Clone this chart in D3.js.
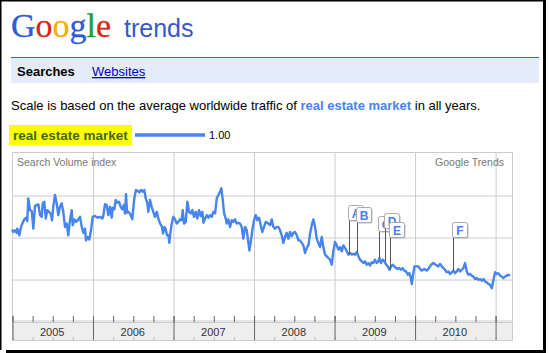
<!DOCTYPE html>
<html>
<head>
<meta charset="utf-8">
<script src="https://cdn.jsdelivr.net/npm/d3@7"></script>
<style>
  html, body { margin: 0; padding: 0; background: #fff; }
  svg { display: block; font-family: "Liberation Sans", Arial, sans-serif; }
</style>
</head>
<body>
<div id="chart"></div>
<script>
// weekly samples, position as decimal year
const sampleYears = [
  2005.000,2005.016,2005.037,2005.058,2005.066,2005.091,2005.112,2005.133,2005.153,2005.174,
  2005.190,2005.202,2005.224,2005.245,2005.265,2005.286,2005.307,2005.327,2005.348,2005.369,
  2005.381,2005.401,2005.419,2005.439,2005.460,2005.481,2005.497,2005.513,2005.534,2005.555,
  2005.575,2005.596,2005.617,2005.637,2005.658,2005.680,2005.699,2005.720,2005.742,2005.754,
  2005.774,2005.795,2005.824,2005.845,2005.866,2005.886,2005.907,2005.919,2005.940,2005.960,
  2005.981,2006.002,
  2006.031,2006.065,2006.093,2006.122,2006.134,2006.155,2006.176,2006.196,2006.217,2006.238,
  2006.251,2006.271,2006.288,2006.308,2006.329,2006.350,2006.370,2006.388,2006.404,2006.416,
  2006.429,2006.445,2006.466,2006.494,2006.519,2006.540,2006.561,2006.581,2006.602,2006.624,
  2006.643,2006.661,2006.681,2006.693,2006.714,2006.735,2006.755,2006.776,2006.798,2006.817,
  2006.839,2006.860,2006.876,2006.892,2006.909,2006.925,2006.942,2006.954,2006.966,2006.984,
  2007.004,2007.025,2007.046,2007.066,
  2007.087,2007.108,2007.120,2007.137,2007.158,2007.178,2007.199,2007.220,2007.240,2007.261,
  2007.282,2007.302,2007.323,2007.344,2007.364,2007.377,2007.398,2007.419,2007.439,2007.460,
  2007.481,2007.501,2007.522,2007.543,2007.563,2007.584,2007.600,2007.618,2007.634,2007.655,
  2007.667,2007.687,2007.708,2007.729,2007.749,2007.770,2007.791,2007.811,2007.832,2007.853,
  2007.873,2007.894,2007.916,2007.935,2007.948,2007.965,2007.985,2008.006,2008.027,2008.047,
  2008.068,2008.089,2008.109,2008.130,2008.152,
  2008.184,2008.205,2008.226,2008.246,2008.267,2008.288,2008.308,2008.329,2008.350,2008.370,
  2008.391,2008.412,2008.433,2008.453,2008.474,2008.494,2008.516,2008.537,2008.557,2008.578,
  2008.599,2008.619,2008.640,2008.661,2008.681,2008.702,2008.723,2008.743,2008.764,2008.785,
  2008.805,2008.826,2008.847,2008.867,2008.888,2008.909,2008.929,2008.950,2008.971,2008.991,
  2009.012,2009.033,2009.053,2009.075,2009.096,2009.116,2009.137,
  2009.158,2009.178,2009.199,2009.220,2009.240,2009.261,2009.282,2009.302,2009.323,2009.344,
  2009.364,2009.385,2009.406,2009.426,2009.447,2009.468,2009.488,2009.509,2009.530,2009.550,
  2009.563,2009.584,2009.604,2009.625,2009.646,2009.667,2009.687,2009.708,2009.729,2009.749,
  2009.770,2009.791,2009.811,2009.832,2009.853,2009.873,2009.894,2009.916,2009.935,2009.953,
  2009.965,2009.978,2009.998,
  2010.006,2010.047,2010.068,2010.089,2010.121,2010.151,2010.179,2010.205,2010.233,2010.263,
  2010.295,2010.317,2010.338,2010.358,2010.379,2010.400,2010.420,2010.441,2010.462,2010.482,
  2010.503,2010.524,2010.544,2010.565,2010.586,2010.606,2010.627,2010.648,2010.668,2010.689,
  2010.710,2010.730,2010.752,2010.773,2010.793,2010.814,2010.835,2010.855,2010.876,2010.897,
  2010.917,2010.938,2010.959,2010.979,2011.000,2011.021,2011.041,2011.062,2011.083,2011.103,
  2011.124,2011.145,2011.165,2011.186
];

// search volume index, relative to the average (1.00)
const searchVolume = [
  1.09,1.06,1.08,1.05,1.10,1.02,1.12,1.17,1.21,1.23,
  1.19,1.46,1.32,1.31,1.10,1.37,1.38,1.39,1.26,1.24,
  1.40,1.42,1.22,1.32,1.30,1.28,1.20,1.36,1.50,1.40,
  1.26,1.36,1.40,1.30,1.12,1.16,1.02,1.20,1.32,1.14,
  1.21,1.18,1.21,1.24,1.12,1.05,1.10,0.96,1.00,0.97,
  1.08,1.24,
  1.25,1.23,1.24,1.22,1.25,1.39,1.38,1.26,1.36,1.23,
  1.35,1.33,1.44,1.41,1.42,1.36,1.33,1.38,1.28,1.51,
  1.29,1.30,1.28,1.21,1.46,1.56,1.55,1.53,1.56,1.54,
  1.56,1.46,1.40,1.30,1.44,1.36,1.30,1.24,1.30,1.22,
  1.16,1.13,1.04,1.12,1.09,1.02,1.02,0.93,1.04,1.16,
  1.24,1.21,1.16,1.18,
  1.21,1.20,1.32,1.16,1.18,1.42,1.30,1.28,1.32,1.24,
  1.30,1.22,1.32,1.25,1.30,1.17,1.22,1.26,1.23,1.26,
  1.24,1.30,1.28,1.46,1.50,1.54,1.58,1.44,1.28,1.22,
  1.16,1.21,1.12,1.20,1.18,1.21,1.16,1.17,1.16,1.12,
  0.98,1.12,1.08,0.94,0.84,0.94,1.08,1.20,1.26,1.20,
  1.23,1.14,1.06,1.12,1.18,
  1.16,1.14,1.21,1.12,1.10,1.12,1.12,1.08,1.02,0.93,
  1.00,1.05,0.98,1.06,1.01,1.05,1.06,1.02,0.96,0.96,
  0.93,0.90,0.81,0.87,0.90,1.04,1.14,1.21,1.12,0.98,
  0.93,0.88,1.00,0.88,0.79,0.77,0.75,0.73,0.67,0.83,
  0.94,0.90,0.85,0.88,0.83,0.90,0.87,
  0.83,0.79,0.81,0.79,0.80,0.79,0.82,0.77,0.73,0.71,
  0.69,0.71,0.67,0.69,0.66,0.70,0.69,0.73,0.69,0.71,
  0.75,0.69,0.73,0.71,0.67,0.65,0.61,0.65,0.67,0.65,
  0.63,0.62,0.63,0.61,0.63,0.60,0.59,0.55,0.57,0.52,
  0.44,0.53,0.65,
  0.65,0.65,0.62,0.60,0.62,0.60,0.63,0.67,0.69,0.67,
  0.65,0.68,0.65,0.63,0.61,0.58,0.59,0.56,0.58,0.60,
  0.57,0.59,0.62,0.59,0.61,0.63,0.69,0.59,0.55,0.56,
  0.54,0.53,0.50,0.51,0.49,0.50,0.48,0.50,0.47,0.46,
  0.44,0.43,0.39,0.49,0.58,0.56,0.57,0.54,0.53,0.51,
  0.53,0.54,0.55,0.54
];

const yearLabels = ["2005", "2006", "2007", "2008", "2009", "2010"];

// news flags
const flagLetters = ["A", "B", "C", "D", "E", "F"];
const flagYears = [2009.186, 2009.290, 2009.563, 2009.634, 2009.696, 2010.482];

const term = "real estate market";
const average = "1.00";

// ---- layout
const W = 550, H = 353;
const plot = { left: 12, right: 512, top: 153, bottom: 321 };
const flagBoxTop = [205, 207, 216, 213, 222, 222];   // stacked so they don't cover each other
const blue = "#4684ee";

const data = sampleYears.map((t, i) => ({ t: t, v: searchVolume[i] }));

const svg = d3.select("#chart").append("svg")
  .attr("width", W).attr("height", H);

// screenshot frame
svg.append("line").attr("x1", 0).attr("x2", 545).attr("y1", 0.75).attr("y2", 0.75)
  .attr("stroke", "#000").attr("stroke-width", 1.5);
svg.append("line").attr("x1", 0.75).attr("x2", 0.75).attr("y1", 0).attr("y2", 350)
  .attr("stroke", "#000").attr("stroke-width", 1.5);
svg.append("line").attr("x1", 544.5).attr("x2", 544.5).attr("y1", 0).attr("y2", 353)
  .attr("stroke", "#000").attr("stroke-width", 3);
svg.append("line").attr("x1", 6).attr("x2", 546).attr("y1", 351.5).attr("y2", 351.5)
  .attr("stroke", "#000").attr("stroke-width", 3);

// ---- header: logo
const logo = svg.append("text")
  .attr("x", 11).attr("y", 37)
  .style("font-family", "'Liberation Serif', 'DejaVu Serif', serif")
  .style("font-size", "34px")
  .attr("stroke-width", 0.3);
[["G", "#2d5bd8"], ["o", "#d8261b"], ["o", "#f0b000"], ["g", "#2d5bd8"], ["l", "#1f9e30"], ["e", "#d8261b"]]
  .forEach(([ch, c]) => logo.append("tspan").text(ch).attr("fill", c).attr("stroke", c));

svg.append("text")
  .attr("x", 124).attr("y", 37)
  .attr("fill", "#3659c4")
  .style("font-size", "25px")
  .text("trends");

// tab band
svg.append("rect").attr("x", 11).attr("y", 57).attr("width", 528).attr("height", 26)
  .attr("fill", "#e5ecf9");
svg.append("line").attr("x1", 11).attr("x2", 539).attr("y1", 57.5).attr("y2", 57.5)
  .attr("stroke", "#3366cc").attr("stroke-width", 1);
svg.append("text").attr("x", 17).attr("y", 76)
  .style("font-size", "13px").style("font-weight", "bold").attr("fill", "#000")
  .text("Searches");
svg.append("text").attr("x", 92).attr("y", 76)
  .style("font-size", "13px").attr("fill", "#0000cc")
  .style("text-decoration", "underline")
  .text("Websites");

// scale sentence
const scaleText = svg.append("text").attr("x", 11).attr("y", 110)
  .style("font-size", "13px").attr("fill", "#000");
scaleText.append("tspan").text("Scale is based on the average worldwide traffic of ");
scaleText.append("tspan").text(term).attr("fill", blue).style("font-weight", "bold");
scaleText.append("tspan").text(" in all years.");

// legend
svg.append("rect").attr("x", 9).attr("y", 125).attr("width", 123).attr("height", 20)
  .attr("fill", "#ffff00");
svg.append("text").attr("x", 13).attr("y", 140)
  .style("font-size", "13.5px").style("font-weight", "bold").attr("fill", "#3d6b00")
  .text(term);
svg.append("line").attr("x1", 135).attr("x2", 205).attr("y1", 135).attr("y2", 135)
  .attr("stroke", blue).attr("stroke-width", 3.5);
svg.append("text").attr("x", 209).attr("y", 139)
  .style("font-size", "11px").attr("fill", "#000")
  .text(average);

// ---- chart
const x = d3.scaleLinear().domain([2005, 2011.21]).range([plot.left, plot.right]);
const y = d3.scaleLinear().domain([0, 2]).range([plot.bottom, plot.top]);

const g = svg.append("g");

g.append("rect")
  .attr("x", plot.left + 0.5).attr("y", plot.top - 0.5)
  .attr("width", plot.right - plot.left).attr("height", plot.bottom - plot.top + 0.5)
  .attr("fill", "#fff").attr("stroke", "#cccccc");

// horizontal grid
g.append("g")
  .attr("transform", `translate(${plot.left},0)`)
  .call(d3.axisLeft(y).tickValues([0.5, 1, 1.5]).tickSize(-(plot.right - plot.left)).tickFormat(""))
  .call(a => a.select(".domain").remove())
  .call(a => a.selectAll("line").attr("stroke", "#cccccc").attr("transform", "translate(0,0.5)"));

// vertical year grid
const yearTicks = d3.range(2006, 2012);
g.append("g")
  .attr("transform", `translate(0,${plot.bottom})`)
  .call(d3.axisTop(x).tickValues(yearTicks).tickSize(plot.bottom - plot.top).tickFormat(""))
  .call(a => a.select(".domain").remove())
  .call(a => a.selectAll("line").attr("stroke", "#cccccc").attr("transform", "translate(0.5,0)"));

g.append("text").attr("x", plot.left + 5).attr("y", 166)
  .style("font-size", "10.5px").attr("fill", "#777")
  .text("Search Volume index");
g.append("text").attr("x", plot.right - 8).attr("y", 166)
  .attr("text-anchor", "end")
  .style("font-size", "10.5px").attr("fill", "#777")
  .text("Google Trends");

// date band under the plot
const bandTop = plot.bottom + 1, bandBottom = 340;
g.append("rect")
  .attr("x", plot.left + 0.5).attr("y", bandTop + 0.5)
  .attr("width", plot.right - plot.left).attr("height", bandBottom - bandTop)
  .attr("fill", "#eeeeee").attr("stroke", "#cccccc");

// quarter ticks
const quarterTicks = d3.range(2005, 2011.2, 0.25);
g.append("g")
  .attr("transform", `translate(0,${plot.bottom + 1})`)
  .call(d3.axisTop(x).tickValues(quarterTicks).tickSize(6).tickFormat(""))
  .call(a => a.select(".domain").remove())
  .call(a => a.selectAll("line").attr("stroke", "#666").attr("transform", "translate(0.5,0)"));
g.append("g")
  .attr("transform", `translate(0,${bandBottom})`)
  .call(d3.axisTop(x).tickValues(quarterTicks).tickSize(3).tickFormat(""))
  .call(a => a.select(".domain").remove())
  .call(a => a.selectAll("line").attr("stroke", "#bbb").attr("transform", "translate(0.5,0)"));

// year separators in the band
g.append("g")
  .attr("transform", `translate(0,${bandBottom})`)
  .call(d3.axisTop(x).tickValues(d3.range(2005, 2012)).tickSize(bandBottom - plot.bottom + 5).tickFormat(""))
  .call(a => a.select(".domain").remove())
  .call(a => a.selectAll("line").attr("stroke", "#666").attr("transform", "translate(0.5,0)"));

// year labels centred in each year
g.selectAll(".year-label")
  .data(yearLabels)
  .join("text")
  .attr("class", "year-label")
  .attr("x", d => x(+d + 0.5))
  .attr("y", 336)
  .attr("text-anchor", "middle")
  .style("font-size", "11px").attr("fill", "#333")
  .text(d => d);

// the series
const line = d3.line().x(d => x(d.t)).y(d => y(d.v));
g.append("path")
  .datum(data)
  .attr("fill", "none")
  .attr("stroke", blue)
  .attr("stroke-width", 2.4)
  .attr("stroke-linejoin", "round")
  .attr("d", line);

// flags
const bis = d3.bisector(d => d.t).center;
const flags = flagLetters.map((l, i) => {
  const pt = data[bis(data, flagYears[i])];
  return { letter: l, t: flagYears[i], v: pt.v, top: flagBoxTop[i] };
});

const fg = g.selectAll(".flag").data(flags).join("g").attr("class", "flag");
fg.append("line")
  .attr("x1", d => Math.round(x(d.t)) + 0.5).attr("x2", d => Math.round(x(d.t)) + 0.5)
  .attr("y1", d => d.top + 15).attr("y2", d => y(d.v))
  .attr("stroke", "#555");
fg.append("rect")
  .attr("x", d => Math.round(x(d.t)) + 0.5).attr("y", d => d.top + 1.5)
  .attr("width", 15).attr("height", 15).attr("rx", 2)
  .attr("fill", "#bbb");
fg.append("rect")
  .attr("x", d => Math.round(x(d.t)) - 0.5).attr("y", d => d.top + 0.5)
  .attr("width", 15).attr("height", 15).attr("rx", 2)
  .attr("fill", "#fff").attr("stroke", "#aaa");
fg.append("text")
  .attr("x", d => Math.round(x(d.t)) + 7)
  .attr("y", d => d.top + 12.5)
  .attr("text-anchor", "middle")
  .style("font-size", "12px").style("font-weight", "bold")
  .attr("fill", "#4a80e8")
  .text(d => d.letter);
</script>
</body>
</html>
